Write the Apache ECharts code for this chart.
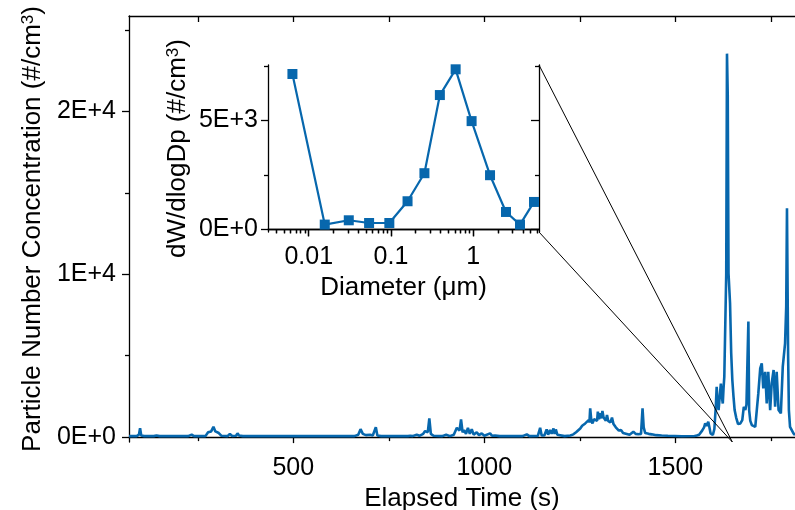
<!DOCTYPE html>
<html><head><meta charset="utf-8">
<script src="https://cdn.jsdelivr.net/npm/echarts@6/dist/echarts.min.js"></script>
<style>html,body{margin:0;padding:0;background:#fff}#c{width:795px;height:510px}</style>
</head><body><div id="c"></div>
<script>
// Main series: elapsed time (s) and particle number concentration (#/cm3)
const timeS = [70,90,96,99,102,110,135,142,150,225,234,240,270,277,285,291,296,300,305,312,328,334,340,350,354,358,363,368,450,550,660,670,676,682,690,701,708,716,720,730,800,806,812,823,830,840,845,852,856,860,867,890,900,910,920,928,935,939,943,947,952,957,962,967,972,980,986,993,1000,1015,1020,1028,1040,1100,1111,1118,1140,1146,1150,1157,1163,1167,1172,1176,1181,1184,1187,1191,1194,1210,1225,1233,1240,1245,1251,1256,1260,1264,1268,1273,1275,1277,1280,1283,1287,1292,1295,1297,1300,1303,1306,1309,1312,1314,1318,1321,1324,1327,1330,1334,1338,1341,1344,1347,1352,1358,1363,1368,1380,1390,1396,1403,1410,1414,1417,1421,1430,1438,1450,1464,1480,1517,1550,1556,1562,1565,1570,1575,1578,1582,1586,1589,1592,1598,1602,1604,1606,1608,1610,1613,1616,1619,1621,1624,1626,1628,1630,1633,1635,1637,1639,1641,1643,1646,1649,1652,1655,1659,1664,1670,1675,1679,1683,1686,1689,1691,1693,1696,1700,1709,1713,1717,1722,1726,1730,1735,1739,1743,1748,1752,1757,1761,1765,1770,1776,1781,1787,1790,1792,1795,1797,1800,1809,1813];
const concentration = [60,60,150,550,100,60,60,100,60,60,150,60,60,300,350,630,350,430,250,80,60,200,70,80,230,100,150,60,60,60,60,150,490,200,120,150,100,610,100,60,60,80,60,150,80,200,370,300,1150,200,80,60,150,60,150,570,400,1090,300,430,200,570,200,490,150,300,120,230,80,230,80,100,60,60,170,60,70,570,100,100,470,150,430,200,530,200,470,150,100,60,100,170,300,400,530,700,650,840,800,1045,900,1760,1000,840,1100,1150,1000,1560,1100,1460,1150,1600,1200,1310,1000,1360,1000,1100,900,1200,800,840,600,530,400,430,250,170,150,330,200,170,200,1760,600,250,200,170,120,100,80,50,70,100,150,230,400,600,840,700,940,600,230,130,500,1250,2000,3090,2200,1660,2500,3290,2600,2060,3000,3710,3600,10000,23540,21000,10060,10000,8230,5160,3500,2500,1660,1200,800,840,1040,1860,1660,2000,1900,7090,1660,1000,740,630,1660,2680,4220,4530,2990,4010,2070,4010,1660,3290,4120,1860,4010,1660,1460,4330,5760,8000,14050,5000,1660,630,230,130];
// Inset: size distribution
const diameterUm = [0.00634,0.01567,0.0307,0.0542,0.0955,0.159,0.255,0.393,0.611,0.955,1.6,2.5,3.7,5.48];
const dWdlogDp = [7130,216,414,290,290,1288,2576,6164,7346,4968,2484,796,216,1256];
// Tick values and labels
const mainXMajorTicks = [500,1000,1500];
const mainXTickLabels = ['500','1000','1500'];
const mainXMinorTicks = [250,750,1250,1750];
const mainYMajorTicks = [0,10000,20000];
const mainYTickLabels = ['0E+0','1E+4','2E+4'];
const mainYMinorTicks = [5000,15000,25000];
const insetXMajorTicks = [0.01,0.1,1];
const insetXTickLabels = ['0.01','0.1','1'];
const insetXMinorTicks = [0.004,0.005,0.006,0.007,0.008,0.009,0.02,0.03,0.04,0.05,0.06,0.07,0.08,0.09,0.2,0.3,0.4,0.5,0.6,0.7,0.8,0.9,2,3,4,5,6];
const insetYMajorTicks = [0,5000];
const insetYTickLabels = ['0E+0','5E+3'];
const insetYMinorTicks = [2500,7500];

const BLUE = '#0767ad';
const FONT = 'Liberation Sans, Arial, sans-serif';
const FS = 25, FT = 26;
const MAIN_X = [70, 1813], MAIN_Y = [-300, 25850];
const INS_X = [0.0032, 6.3], INS_Y = [-124, 7544];
const ZOOM_T = 1649;

function lab(vals, labels) {
  return function (v) {
    let best = 0, bd = Infinity;
    vals.forEach((t, i) => { const d = Math.abs(Math.log(Math.abs(v) + 1e-9) - Math.log(Math.abs(t) + 1e-9)); if (d < bd) { bd = d; best = i; } });
    return labels[best];
  };
}
const txt = { color: '#000', fontFamily: FONT, fontSize: FS };
const ttl = { color: '#000', fontFamily: FONT, fontSize: FT };
const ttlSup = Object.assign({}, ttl, { rich: { sup: { color: '#000', fontFamily: FONT, fontSize: 17, verticalAlign: 'top', padding: [0, 0, 8, 0] } } });
function ax(base) { return Object.assign({ splitLine: { show: false }, axisLine: { show: false }, axisLabel: { show: false }, axisTick: { show: false } }, base); }
const line = { show: true, lineStyle: { color: '#000', width: 1.3 } };
const tk = (vals, len, inside) => ({ show: true, customValues: vals, length: len, inside: !!inside, lineStyle: { color: '#000', width: 1.3 } });

const chart = echarts.init(document.getElementById('c'), null, { renderer: 'canvas' });
const option = {
  animation: false,
  backgroundColor: '#fff',
  grid: [
    { left: 129, top: 16, right: 0, bottom: 68, containLabel: false, outerBoundsMode: 'none' },
    { left: 268, top: 65, width: 271, height: 167, containLabel: false, outerBoundsMode: 'none' }
  ],
  xAxis: [
    ax({ gridIndex: 0, type: 'value', position: 'bottom', min: MAIN_X[0], max: MAIN_X[1], axisLine: line,
      axisTick: tk(mainXMajorTicks, 6), axisLabel: Object.assign({ show: true, customValues: mainXMajorTicks, margin: 14, formatter: v => mainXTickLabels[mainXMajorTicks.indexOf(Math.round(v))] }, txt),
      name: 'Elapsed Time (s)', nameLocation: 'middle', nameGap: 39, nameTextStyle: ttl }),
    ax({ gridIndex: 0, type: 'value', position: 'bottom', min: MAIN_X[0], max: MAIN_X[1], axisTick: tk(mainXMinorTicks, 4) }),
    ax({ gridIndex: 0, type: 'value', position: 'top', min: MAIN_X[0], max: MAIN_X[1], axisLine: line,
      axisTick: tk(mainXMajorTicks.concat(mainXMinorTicks), 6, true) }),
    ax({ gridIndex: 1, type: 'log', logBase: 10, position: 'bottom', min: INS_X[0], max: INS_X[1], axisLine: line,
      axisTick: tk(insetXMajorTicks, 7), axisLabel: Object.assign({ show: true, customValues: insetXMajorTicks, margin: 13, formatter: lab(insetXMajorTicks, insetXTickLabels) }, txt),
      name: 'Diameter (\u03bcm)', nameLocation: 'middle', nameGap: 43, nameTextStyle: ttl }),
    ax({ gridIndex: 1, type: 'log', logBase: 10, position: 'bottom', min: INS_X[0], max: INS_X[1], axisTick: tk(insetXMinorTicks, 4) }),
    ax({ gridIndex: 1, type: 'log', logBase: 10, position: 'top', min: INS_X[0], max: INS_X[1], axisLine: line, axisTick: tk(insetXMajorTicks, 7, true) }),
    ax({ gridIndex: 1, type: 'log', logBase: 10, position: 'top', min: INS_X[0], max: INS_X[1], axisTick: tk(insetXMinorTicks, 4, true) })
  ],
  yAxis: [
    ax({ gridIndex: 0, type: 'value', position: 'left', min: MAIN_Y[0], max: MAIN_Y[1], axisLine: line,
      axisTick: tk(mainYMajorTicks, 7), axisLabel: Object.assign({ show: true, customValues: mainYMajorTicks, margin: 13, formatter: v => mainYTickLabels[mainYMajorTicks.indexOf(Math.round(v))] }, txt),
      name: 'Particle Number Concentration (#/cm{sup|3})', nameLocation: 'middle', nameGap: 74, nameRotate: 90, nameTextStyle: ttlSup }),
    ax({ gridIndex: 0, type: 'value', position: 'left', min: MAIN_Y[0], max: MAIN_Y[1], axisTick: tk(mainYMinorTicks, 4) }),
    ax({ gridIndex: 1, type: 'value', position: 'left', min: INS_Y[0], max: INS_Y[1], axisLine: line,
      axisTick: tk(insetYMajorTicks, 7), axisLabel: Object.assign({ show: true, customValues: insetYMajorTicks, margin: 10, formatter: v => insetYTickLabels[insetYMajorTicks.indexOf(Math.round(v))] }, txt),
      name: 'dW/dlogDp (#/cm{sup|3})', nameLocation: 'middle', nameGap: 77, nameRotate: 90, nameTextStyle: ttlSup }),
    ax({ gridIndex: 1, type: 'value', position: 'left', min: INS_Y[0], max: INS_Y[1], axisTick: tk(insetYMinorTicks, 4) }),
    ax({ gridIndex: 1, type: 'value', position: 'right', min: INS_Y[0], max: INS_Y[1], axisLine: line, axisTick: tk(insetYMajorTicks, 8, true) }),
    ax({ gridIndex: 1, type: 'value', position: 'right', min: INS_Y[0], max: INS_Y[1], axisTick: tk(insetYMinorTicks, 4, true) })
  ],
  series: [
    { type: 'line', xAxisIndex: 0, yAxisIndex: 0, data: timeS.map((t, i) => [t, concentration[i]]),
      showSymbol: false, symbol: 'none', lineStyle: { color: BLUE, width: 2.6 }, itemStyle: { color: BLUE }, z: 1 },
    { type: 'line', xAxisIndex: 3, yAxisIndex: 2, data: diameterUm.map((d, i) => [d, dWdlogDp[i]]),
      symbol: 'rect', symbolSize: 10, lineStyle: { color: BLUE, width: 2.2 }, itemStyle: { color: BLUE }, z: 3 }
  ]
};
chart.setOption(option);
const pTop = chart.convertToPixel({ xAxisIndex: 3, yAxisIndex: 2 }, [INS_X[1], INS_Y[1]]);
const pBot = chart.convertToPixel({ xAxisIndex: 3, yAxisIndex: 2 }, [INS_X[1], INS_Y[0]]);
const pMain = chart.convertToPixel({ xAxisIndex: 0, yAxisIndex: 0 }, [ZOOM_T, MAIN_Y[0]]);
chart.setOption({ graphic: [
  { type: 'line', shape: { x1: pTop[0], y1: pTop[1], x2: pMain[0], y2: pMain[1] }, style: { stroke: '#000', lineWidth: 1 }, z: 10 },
  { type: 'line', shape: { x1: pBot[0], y1: pBot[1], x2: pMain[0], y2: pMain[1] }, style: { stroke: '#000', lineWidth: 1 }, z: 10 }
] });
</script></body></html>
